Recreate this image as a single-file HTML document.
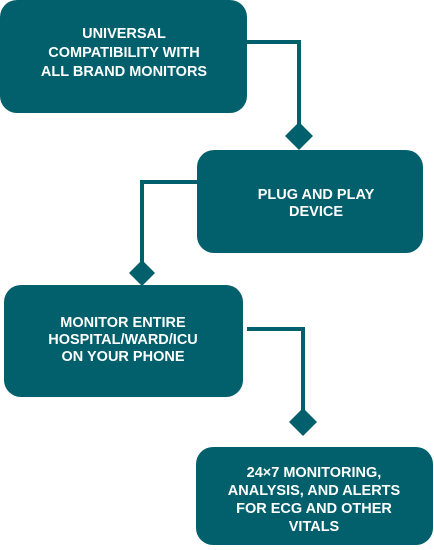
<!DOCTYPE html>
<html><head><style>
html,body{margin:0;padding:0;background:#fff;}
text{font-family:"Liberation Sans",sans-serif;font-weight:bold;font-size:14.5px;fill:#fff;text-anchor:middle;}
</style></head><body>
<svg width="434" height="545" viewBox="0 0 434 545" xmlns="http://www.w3.org/2000/svg">
<g fill="#01606c">
<rect x="0" y="0" width="247" height="113" rx="17"/>
<rect x="197" y="150" width="226" height="103" rx="17"/>
<rect x="4" y="285" width="239" height="112" rx="17"/>
<rect x="196" y="447" width="237" height="98" rx="17"/>
<polygon points="299,122 313,136 299,150 285,136"/>
<polygon points="142,260 155,273 142,286 129,273"/>
<polygon points="303,408 317,422 303,436 289,422"/>
</g>
<g stroke="#01606c" stroke-width="4" fill="none">
<polyline points="247,42 299,42 299,124"/>
<polyline points="197,182 142,182 142,262"/>
<polyline points="247,329 303,329 303,410"/>
</g>
<text x="124" y="38">UNIVERSAL</text>
<text x="124" y="57">COMPATIBILITY WITH</text>
<text x="124" y="76">ALL BRAND MONITORS</text>
<text x="316" y="199">PLUG AND PLAY</text>
<text x="316" y="216">DEVICE</text>
<text x="123" y="327">MONITOR ENTIRE</text>
<text x="123" y="344">HOSPITAL/WARD/ICU</text>
<text x="123" y="361">ON YOUR PHONE</text>
<text x="314" y="477">24×7 MONITORING,</text>
<text x="314" y="495">ANALYSIS, AND ALERTS</text>
<text x="314" y="513">FOR ECG AND OTHER</text>
<text x="314" y="531">VITALS</text>
</svg>
</body></html>
